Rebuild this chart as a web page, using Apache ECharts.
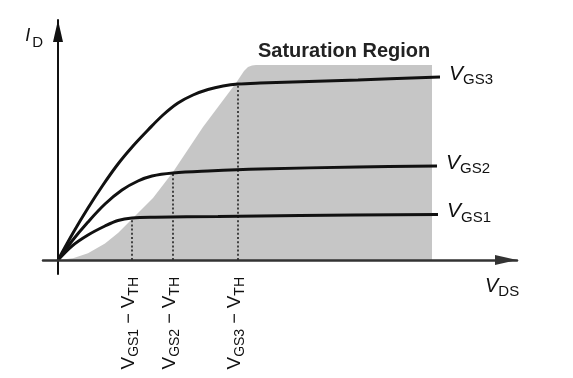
<!DOCTYPE html>
<html>
<head>
<meta charset="utf-8">
<script src="https://cdn.jsdelivr.net/npm/echarts@6/dist/echarts.min.js"></script>
<style>
html,body{margin:0;padding:0;background:#fff;}
#chart{width:573px;height:378px;}
</style>
</head>
<body>
<div id="chart"></div>
<script>
// Values in arbitrary units (VDS horizontal, ID vertical)
const vgs1X = [0, 14, 30, 47, 60, 74, 97, 160, 242, 380];
const vgs1Y = [0, 14, 25, 34, 39.5, 42, 42.8, 43.5, 44.5, 45.5];

const vgs2X = [0, 14, 30, 47, 64, 80, 94, 115, 150, 202, 300, 379];
const vgs2Y = [0, 19, 38, 56, 70, 79, 84, 87, 89, 91, 93, 94];

const vgs3X = [0, 15, 30, 45, 60, 75, 90, 105, 120, 135, 150, 165, 180, 202, 300, 382];
const vgs3Y = [0, 27, 52, 75, 96, 114, 130, 145, 157, 165, 170.5, 174, 176, 177, 180, 183];

const curveSubs = ['GS1', 'GS2', 'GS3'];

// Saturation region boundary
const satX = [0, 15, 30, 47, 60, 74, 95, 115, 145, 178, 186, 190, 194, 198, 374, 374];
const satY = [0, 1.7, 6.7, 16.5, 27, 41, 62, 88, 133, 177, 189, 193, 194.6, 195, 195, 0];

// Knee points (VGS - VTH) and tick labels
const kneeX = [74, 115, 180];
const kneeY = [42, 88, 177];
const tickSubs = ['GS1', 'GS2', 'GS3'];

const FONT = "'Liberation Sans', Arial, Helvetica, sans-serif";
const INK = '#111';

const chart = echarts.init(document.getElementById('chart'), null, {renderer: 'canvas'});

function curveSeries(xs, ys, sub) {
  return {
    type: 'line',
    name: 'V' + sub,
    data: xs.map((x, i) => [x, ys[i]]),
    smooth: 0.35,
    showSymbol: false,
    symbol: 'none',
    z: 5,
    lineStyle: {color: INK, width: 3},
    endLabel: {
      show: true,
      distance: 9,
      formatter: '{v|V}{s|' + sub + '}',
      rich: {
        v: {fontFamily: FONT, fontSize: 21, fontStyle: 'italic', color: INK, verticalAlign: 'bottom', lineHeight: 21, padding: [0, 0, 3, 0]},
        s: {fontFamily: FONT, fontSize: 15, color: INK, verticalAlign: 'bottom', lineHeight: 15}
      }
    }
  };
}

const option = {
  animation: false,
  backgroundColor: '#ffffff',
  title: {
    text: 'Saturation Region',
    left: 253,
    top: 36,
    textStyle: {fontFamily: FONT, fontSize: 20, fontWeight: 'bold', color: '#222'}
  },
  grid: {left: 43, right: 56, top: 20, bottom: 104},
  xAxis: {
    type: 'value',
    min: -15,
    max: 459,
    z: 10,
    name: '{v|V}{s|DS}',
    nameLocation: 'end',
    nameGap: -32,
    nameTextStyle: {
      align: 'left',
      verticalAlign: 'top',
      padding: [19, 0, 0, 0],
      rich: {
        v: {fontFamily: FONT, fontSize: 20, fontStyle: 'italic', color: INK, verticalAlign: 'bottom', lineHeight: 20, padding: [0, 0, 3, 0]},
        s: {fontFamily: FONT, fontSize: 15, color: INK, verticalAlign: 'bottom', lineHeight: 15}
      }
    },
    axisLine: {
      show: true,
      onZero: true,
      symbol: ['none', 'triangle'],
      symbolSize: [10, 22],
      symbolOffset: [0, -11],
      lineStyle: {color: '#333', width: 2.5}
    },
    axisTick: {show: false},
    splitLine: {show: false},
    axisLabel: {
      show: true,
      customValues: kneeX,
      rotate: 90,
      margin: 3,
      formatter: function (val) {
        const i = kneeX.indexOf(val);
        if (i < 0) return '';
        return '{v|V}{s|' + tickSubs[i] + '}{m| \u2212 }{v|V}{s|TH}';
      },
      rich: {
        v: {fontFamily: FONT, fontSize: 19, color: INK, verticalAlign: 'bottom', lineHeight: 19, padding: [0, 0, 3, 0]},
        s: {fontFamily: FONT, fontSize: 14, color: INK, verticalAlign: 'bottom', lineHeight: 14},
        m: {fontFamily: FONT, fontSize: 18, color: INK, verticalAlign: 'bottom', lineHeight: 18, padding: [0, 0, 3, 0]}
      }
    }
  },
  yAxis: {
    type: 'value',
    min: -14,
    max: 240,
    z: 10,
    name: '{i|I}{d|D}',
    nameLocation: 'end',
    nameGap: -30,
    nameTextStyle: {
      align: 'right',
      verticalAlign: 'bottom',
      padding: [0, 15, 0, 0],
      rich: {
        i: {fontFamily: FONT, fontSize: 18, fontStyle: 'italic', color: INK, verticalAlign: 'bottom', lineHeight: 18, padding: [0, 2, 5, 0]},
        d: {fontFamily: FONT, fontSize: 15, color: INK, verticalAlign: 'bottom', lineHeight: 15}
      }
    },
    axisLine: {
      show: true,
      onZero: true,
      symbol: ['none', 'triangle'],
      symbolSize: [10, 22],
      symbolOffset: [0, -11],
      lineStyle: {color: '#111', width: 2}
    },
    axisTick: {show: false},
    axisLabel: {show: false},
    splitLine: {show: false}
  },
  series: [
    {
      type: 'custom',
      name: 'Saturation Region',
      z: 1,
      data: satX.map((x, i) => [x, satY[i]]),
      encode: {x: 0, y: 1},
      renderItem: function (params, api) {
        if (params.dataIndex !== 0) return null;
        const pts = satX.map((x, i) => api.coord([x, satY[i]]));
        return {type: 'polygon', shape: {points: pts}, style: {fill: '#c6c6c6'}};
      }
    },
    {
      type: 'custom',
      name: 'knees',
      z: 2,
      data: kneeX.map((x, i) => [x, kneeY[i]]),
      encode: {x: 0, y: 1},
      renderItem: function (params, api) {
        const p0 = api.coord([api.value(0), 0]);
        const p1 = api.coord([api.value(0), api.value(1)]);
        return {
          type: 'line',
          shape: {x1: p0[0], y1: p0[1], x2: p1[0], y2: p1[1]},
          style: {stroke: '#222', lineWidth: 1.6, lineDash: [2, 2.2]}
        };
      }
    },
    curveSeries(vgs1X, vgs1Y, curveSubs[0]),
    curveSeries(vgs2X, vgs2Y, curveSubs[1]),
    curveSeries(vgs3X, vgs3Y, curveSubs[2])
  ]
};

chart.setOption(option);
</script>
</body>
</html>
